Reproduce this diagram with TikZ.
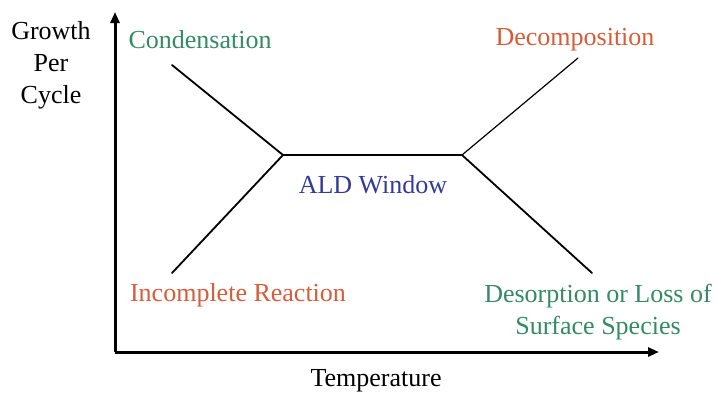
\documentclass[tikz,border=0pt]{standalone}
\usepackage{fontspec}
\setmainfont{Liberation Serif}
\usetikzlibrary{arrows.meta}
\definecolor{lgreen}{RGB}{52,138,104}
\definecolor{lorange}{RGB}{214,92,58}
\definecolor{lblue}{RGB}{52,58,150}
\tikzset{
  lbl/.style={font=\fontsize{26}{32}\selectfont, align=center, inner sep=0pt},
  axis/.style={line width=3pt, -{Triangle[length=11pt,width=9pt]}},
  curve/.style={line width=1.8pt, line cap=round, line join=miter}
}
\begin{document}
\begin{tikzpicture}[x=1pt,y=-1pt]
\useasboundingbox (0,0) rectangle (717,392);
% axes
\coordinate (O) at (115,352);
\coordinate (Ytop) at (115,12);
\coordinate (Xend) at (659,352);
\draw[axis] (O) -- (Ytop);
\draw[axis] (O) -- (Xend);
% curve points
\coordinate (c1) at (172,65);
\coordinate (p1) at (283,155);
\coordinate (p2) at (462,155);
\coordinate (d1) at (578,58);
\coordinate (i1) at (172,273);
\coordinate (s1) at (592,273);
\draw[curve] (c1) -- (p1) -- (p2) -- (s1);
\draw[curve] (i1) -- (p1);
\draw[curve, line width=1.2pt] (p2) -- (d1);
% labels
\node[lbl, text=black] (gpc) at (51,65) {Growth\\Per\\Cycle};
\node[lbl, text=black] (temp) at (376,381) {Temperature};
\node[lbl, text=lgreen] (cond) at (200,40) {Condensation};
\node[lbl, text=lorange] (decomp) at (575,40) {Decomposition};
\node[lbl, text=lblue] (ald) at (373,185) {ALD Window};
\node[lbl, text=lorange] (incomp) at (238,295) {Incomplete Reaction};
\node[lbl, text=lgreen] (desorp) at (598,312) {Desorption or Loss of\\Surface Species};
\end{tikzpicture}
\end{document}
